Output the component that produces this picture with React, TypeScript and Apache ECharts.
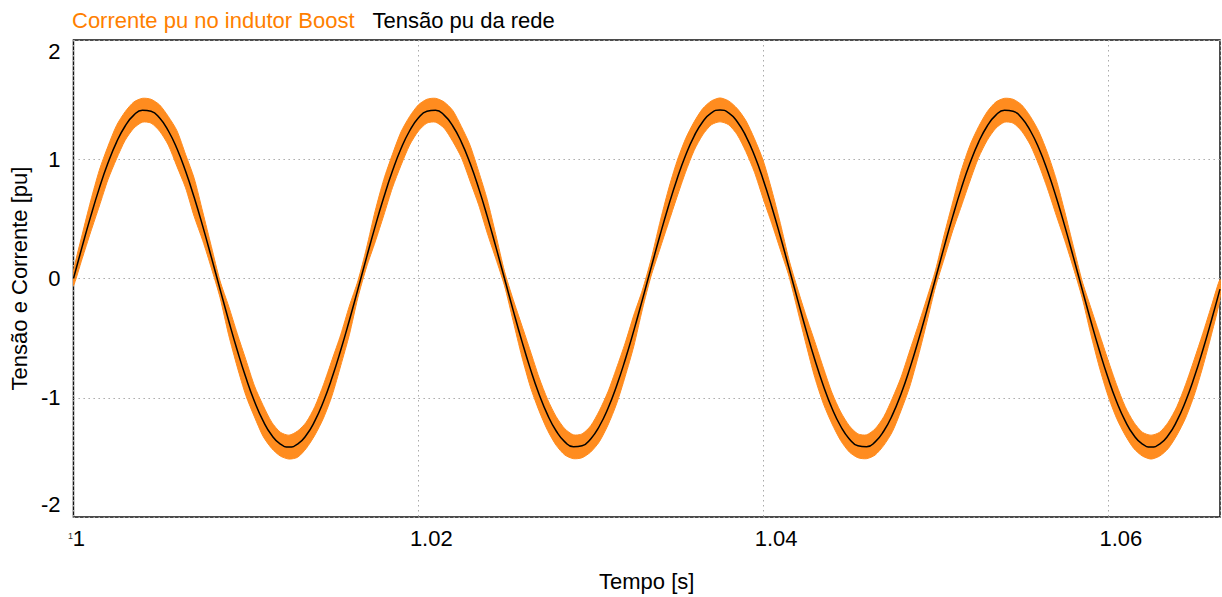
import React, { useEffect, useRef } from "react";
import * as echarts from "echarts";

// Simulation sampled every 0.5 ms starting at t = 1 s
const tempoInicial = 1.0;
const passo = 0.0005;

// Grid voltage (pu)
const tensao = [
  0, 0.265, 0.521, 0.758, 0.968, 1.144, 1.279, 1.37, 1.411, 1.403,
  1.345, 1.239, 1.09, 0.901, 0.681, 0.437, 0.177, -0.089, -0.352, -0.602,
  -0.831, -1.031, -1.194, -1.315, -1.389, -1.414, -1.389, -1.315, -1.194, -1.031,
  -0.831, -0.602, -0.352, -0.089, 0.177, 0.437, 0.681, 0.901, 1.09, 1.239,
  1.345, 1.403, 1.411, 1.37, 1.279, 1.144, 0.968, 0.758, 0.521, 0.265,
  0, -0.265, -0.521, -0.758, -0.968, -1.144, -1.279, -1.37, -1.411, -1.403,
  -1.345, -1.239, -1.09, -0.901, -0.681, -0.437, -0.177, 0.089, 0.352, 0.602,
  0.831, 1.031, 1.194, 1.315, 1.389, 1.414, 1.389, 1.315, 1.194, 1.031,
  0.831, 0.602, 0.352, 0.089, -0.177, -0.437, -0.681, -0.901, -1.09, -1.239,
  -1.345, -1.403, -1.411, -1.37, -1.279, -1.144, -0.968, -0.758, -0.521, -0.265,
  0, 0.265, 0.521, 0.758, 0.968, 1.144, 1.279, 1.37, 1.411, 1.403,
  1.345, 1.239, 1.09, 0.901, 0.681, 0.437, 0.177, -0.089, -0.352, -0.602,
  -0.831, -1.031, -1.194, -1.315, -1.389, -1.414, -1.389, -1.315, -1.194, -1.031,
  -0.831, -0.602, -0.352, -0.089,
];

// Boost inductor current: half-width of the switching ripple band around the tracked sine (pu)
const ondulacao = [
  0.06, 0.1, 0.13, 0.15, 0.14, 0.14, 0.12, 0.11, 0.1, 0.1,
  0.11, 0.12, 0.15, 0.14, 0.16, 0.12, 0.09, 0.07, 0.12, 0.14,
  0.15, 0.13, 0.13, 0.11, 0.1, 0.1, 0.11, 0.11, 0.12, 0.14,
  0.15, 0.13, 0.12, 0.07, 0.08, 0.13, 0.15, 0.14, 0.14, 0.12,
  0.11, 0.1, 0.1, 0.11, 0.13, 0.13, 0.15, 0.14, 0.14, 0.1,
  0.06, 0.09, 0.13, 0.15, 0.14, 0.13, 0.12, 0.11, 0.1, 0.1,
  0.11, 0.13, 0.14, 0.15, 0.14, 0.13, 0.08, 0.07, 0.11, 0.14,
  0.15, 0.14, 0.12, 0.11, 0.1, 0.1, 0.1, 0.11, 0.13, 0.14,
  0.16, 0.14, 0.11, 0.07, 0.09, 0.12, 0.15, 0.15, 0.13, 0.12,
  0.11, 0.1, 0.1, 0.11, 0.12, 0.14, 0.14, 0.15, 0.13, 0.1,
  0.07, 0.1, 0.12, 0.15, 0.15, 0.13, 0.12, 0.11, 0.1, 0.1,
  0.11, 0.12, 0.14, 0.15, 0.15, 0.12, 0.09, 0.07, 0.11, 0.14,
  0.15, 0.14, 0.12, 0.11, 0.1, 0.1, 0.1, 0.11, 0.12, 0.14,
  0.15, 0.14, 0.12, 0.08,
];

const xTicks = { min: 1, max: 1.0665, interval: 0.02 };
const yTicks = { min: -2, max: 2, interval: 1 };

const nomeCorrente = "Corrente pu no indutor Boost";
const nomeTensao = "Tensão pu da rede";

const LARANJA = "#ff8c1f";
const FONTE = "'Liberation Sans', Arial, Helvetica, sans-serif";

export default function App() {
  const ref = useRef<HTMLDivElement>(null);

  useEffect(() => {
    if (!ref.current) return;
    const chart = echarts.init(ref.current, undefined, { renderer: "svg" });

    const tempo = tensao.map((_, i) => +(tempoInicial + i * passo).toFixed(4));
    // [t, lower envelope, upper envelope] of the inductor current
    const faixaCorrente = tensao.map((v, i) => [
      tempo[i],
      +(v - ondulacao[i]).toFixed(3),
      +(v + ondulacao[i]).toFixed(3),
    ]);
    const linhaTensao = tensao.map((v, i) => [tempo[i], v]);

    chart.setOption({
      animation: false,
      textStyle: { fontFamily: FONTE },
      grid: {
        left: 71.5,
        right: 2,
        top: 40,
        bottom: 74.5,
        show: true,
        borderColor: "#111",
        borderWidth: 1.5,
        backgroundColor: "transparent",
      },
      legend: {
        left: 62,
        top: 4,
        itemWidth: 0,
        itemHeight: 0,
        itemGap: 13,
        selectedMode: false,
        textStyle: { fontSize: 22, fontFamily: FONTE },
        data: [
          { name: nomeCorrente, icon: "rect", textStyle: { color: "#ff7f00" } },
          { name: nomeTensao, icon: "rect", textStyle: { color: "#000" } },
        ],
      },
      xAxis: {
        type: "value",
        min: xTicks.min,
        max: xTicks.max,
        interval: xTicks.interval,
        name: "Tempo [s]",
        nameLocation: "middle",
        nameGap: 53,
        nameTextStyle: { fontSize: 22, color: "#000", fontFamily: FONTE },
        axisLine: { show: false },
        axisTick: { show: false },
        splitLine: {
          show: true,
          lineStyle: { color: "#aaa", type: [1.5, 3.5], width: 1 },
        },
        axisLabel: {
          showMaxLabel: false,
          margin: 10,
          color: "#000",
          fontSize: 22,
          fontFamily: FONTE,
          formatter: (v: number) =>
            Math.abs(v - 1) < 1e-9 ? "{f|1}" : "{n|" + v.toFixed(2) + "}",
          rich: {
            f: { fontSize: 22, lineHeight: 22, padding: [0, 0, 0, 11], fontFamily: FONTE, color: "#000" },
            n: { fontSize: 22, lineHeight: 22, padding: [0, 0, 0, 26], fontFamily: FONTE, color: "#000" },
          },
        },
      },
      yAxis: {
        type: "value",
        min: yTicks.min,
        max: yTicks.max,
        interval: yTicks.interval,
        name: "Tensão e Corrente [pu]",
        nameLocation: "middle",
        nameGap: 38,
        nameTextStyle: { fontSize: 22, color: "#000", fontFamily: FONTE },
        axisLine: { show: false },
        axisTick: { show: false },
        splitLine: {
          show: true,
          lineStyle: { color: "#aaa", type: [1.5, 3.5], width: 1 },
        },
        axisLabel: {
          margin: 13,
          color: "#000",
          fontSize: 22,
          fontFamily: FONTE,
          formatter: (v: number) =>
            v === yTicks.max ? "{t|" + v + "}" : v === yTicks.min ? "{b|" + v + "}" : "{n|" + v + "}",
          rich: {
            t: { fontSize: 22, lineHeight: 22, padding: [23, 0, 0, 0], fontFamily: FONTE, color: "#000" },
            b: { fontSize: 22, lineHeight: 22, padding: [0, 0, 25, 0], fontFamily: FONTE, color: "#000" },
            n: { fontSize: 22, lineHeight: 22, fontFamily: FONTE, color: "#000" },
          },
        },
      },
      graphic: [
        {
          type: "text",
          left: 68,
          top: 531,
          style: { text: "1", fontSize: 9, fill: "#333", fontFamily: FONTE },
        },
      ],
      series: [
        {
          name: nomeCorrente,
          type: "custom",
          data: faixaCorrente,
          encode: { x: 0, y: [1, 2] },
          clip: true,
          silent: true,
          itemStyle: { color: LARANJA },
          z: 2,
          renderItem: (params: any, api: any) => {
            // one closed polygon: upper envelope forward, lower envelope back
            if (params.dataIndex !== 0) return null;
            const sup = faixaCorrente.map((d) => api.coord([d[0], d[2]]));
            const inf = faixaCorrente.map((d) => api.coord([d[0], d[1]])).reverse();
            return {
              type: "polygon",
              shape: { points: sup.concat(inf), smooth: 0.25 },
              style: { fill: LARANJA, stroke: LARANJA, lineWidth: 1 },
            };
          },
        },
        {
          name: nomeTensao,
          type: "line",
          data: linhaTensao,
          symbol: "none",
          smooth: true,
          silent: true,
          lineStyle: { color: "#000", width: 1.5 },
          itemStyle: { color: "#000" },
          z: 3,
        },
      ],
    });

    return () => chart.dispose();
  }, []);

  return (
    <div
      ref={ref}
      style={{ position: "fixed", left: 0, top: 0, width: 1222, height: 597, background: "#fff" }}
    />
  );
}
